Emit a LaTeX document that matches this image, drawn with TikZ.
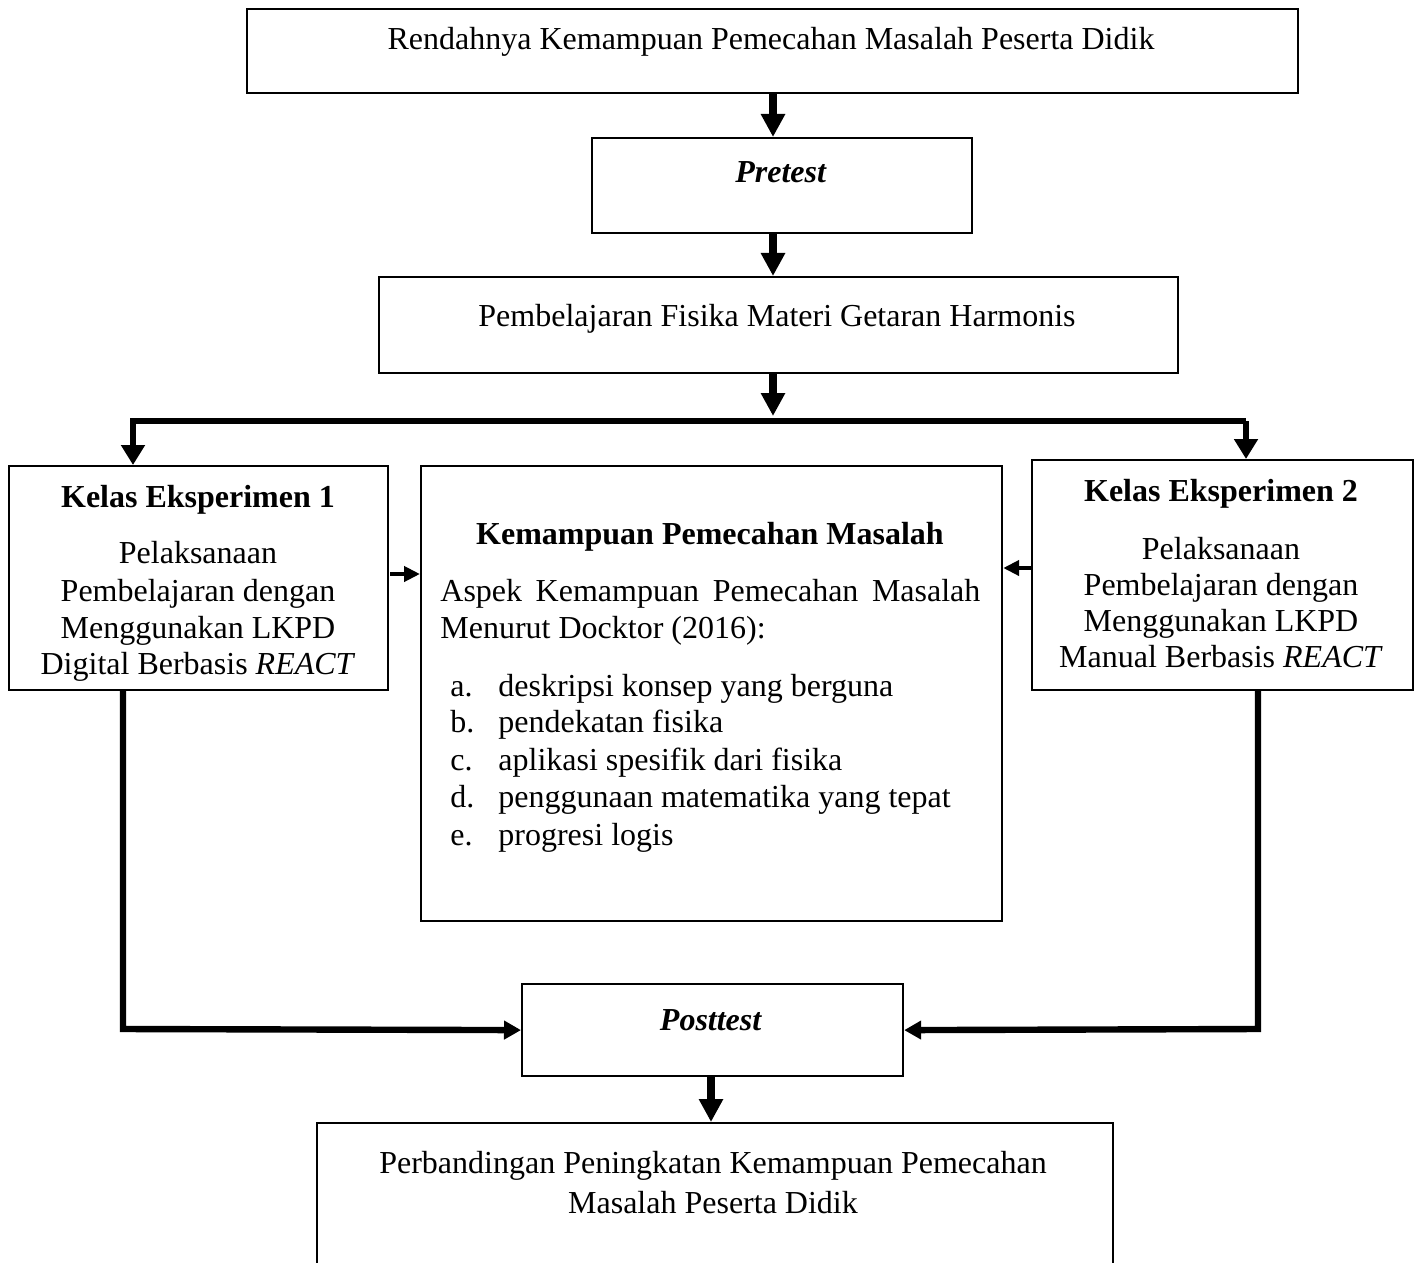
\documentclass[tikz,border=0pt]{standalone}
\usepackage{fontspec}
\setmainfont{Liberation Serif}
\usetikzlibrary{arrows.meta,calc}
\begin{document}
\begin{tikzpicture}[x=0.5pt,y=-0.5pt,
  box/.style={draw,line width=1.1pt,inner sep=0pt,anchor=north west},
  txt/.style={anchor=base,inner sep=0pt,font=\fontsize{16pt}{18.5pt}\selectfont},
  txtl/.style={anchor=base west,inner sep=0pt,font=\fontsize{16pt}{18.5pt}\selectfont},
  bigarr/.style={line width=3.6pt,-{Triangle[length=11.5pt,width=11.5pt]}},
  brarr/.style={line width=3.2pt,line join=miter,-{Triangle[length=10pt,width=11.5pt]}},
  sidearr/.style={line width=3.2pt,line join=miter,-{Triangle[length=8.5pt,width=9pt]}},
  smallarr/.style={line width=2pt,-{Triangle[length=8pt,width=7.5pt]}}]
\useasboundingbox (0,0) rectangle (1416,1262);
\clip (0,0) rectangle (1416,1262);
% boxes
\node[box,minimum width=525.5pt,minimum height=42pt] (b1) at (246,8) {};
\node[box,minimum width=190pt,minimum height=47.5pt] (pre) at (591,137) {};
\node[box,minimum width=399.5pt,minimum height=48pt] (b3) at (378,276) {};
\node[box,minimum width=189.5pt,minimum height=112pt] (k1) at (8,465) {};
\node[box,minimum width=290.5pt,minimum height=227.5pt] (mid) at (420,465) {};
\node[box,minimum width=190.5pt,minimum height=115pt] (k2) at (1031,459) {};
\node[box,minimum width=190.5pt,minimum height=46pt] (post) at (521,983) {};
\node[box,minimum width=398pt,minimum height=89pt] (bot) at (316,1122) {};
% texts
\node[txt] (t1) at (771,50) {Rendahnya Kemampuan Pemecahan Masalah Peserta Didik};
\node[txt] (t2) at (781,183) {\textbf{\textit{Pretest}}};
\node[txt] (t3) at (777,326) {Pembelajaran Fisika Materi Getaran Harmonis};
\node[txt] (k1a) at (198,507) {\textbf{Kelas Eksperimen 1}};
\node[txt] (k1b) at (198,563) {Pelaksanaan};
\node[txt] (k1c) at (198,601) {Pembelajaran dengan};
\node[txt] (k1d) at (198,638) {Menggunakan LKPD};
\node[txt] (k1e) at (198,674) {Digital Berbasis \textit{REACT}};
\node[txt] (k2a) at (1221,501) {\textbf{Kelas Eksperimen 2}};
\node[txt] (k2b) at (1221,559) {Pelaksanaan};
\node[txt] (k2c) at (1221,595) {Pembelajaran dengan};
\node[txt] (k2d) at (1221,631) {Menggunakan LKPD};
\node[txt] (k2e) at (1221,667) {Manual Berbasis \textit{REACT}};
\node[txt] (ma) at (710,544) {\textbf{Kemampuan Pemecahan Masalah}};
\node[txtl] (mb) at (440,601) {\makebox[270pt][s]{Aspek Kemampuan Pemecahan Masalah}};
\node[txtl] (mc) at (440,638) {Menurut Docktor (2016):};
\node[txtl] (la) at (450,696) {a.};
\node[txtl] (lb) at (450,732) {b.};
\node[txtl] (lc) at (450,770) {c.};
\node[txtl] (ld) at (450,807) {d.};
\node[txtl] (le) at (450,845) {e.};
\node[txtl] (ia) at (498,696) {deskripsi konsep yang berguna};
\node[txtl] (ib) at (498,732) {pendekatan fisika};
\node[txtl] (ic) at (498,770) {aplikasi spesifik dari fisika};
\node[txtl] (id) at (498,807) {penggunaan matematika yang tepat};
\node[txtl] (ie) at (498,845) {progresi logis};
\node[txt] (tp) at (711,1030) {\textbf{\textit{Posttest}}};
\node[txt] (tb1) at (713,1173) {Perbandingan Peningkatan Kemampuan Pemecahan};
\node[txt] (tb2) at (713,1213) {Masalah Peserta Didik};
% coordinates
\coordinate (br) at (773,416);
\coordinate (brL) at (133,421);
\coordinate (brR) at (1246,421);
\coordinate (sL) at (390,574);
\coordinate (sR) at (1031,568);
\coordinate (cL) at (123,1029);
\coordinate (cR) at (1258,1029);
% connectors
\draw[bigarr] (b1.south -| br) -- (pre.north -| br);
\draw[bigarr] (pre.south -| br) -- (b3.north -| br);
\draw[bigarr] (b3.south -| br) -- (br);
\draw[brarr] (brR) -- (brL) -- (k1.north -| brL);
\draw[brarr] (brR) -- (k2.north -| brR);
\draw[smallarr] (sL) -- (mid.west |- sL);
\draw[smallarr] (k2.west |- sR) -- (mid.east |- sR);
\draw[sidearr] (k1.south -| cL) -- (cL) -- (post.west);
\draw[sidearr] (k2.south -| cR) -- (cR) -- (post.east);
\draw[bigarr] (post.south -| tp) -- (bot.north -| tp);
\end{tikzpicture}
\end{document}
